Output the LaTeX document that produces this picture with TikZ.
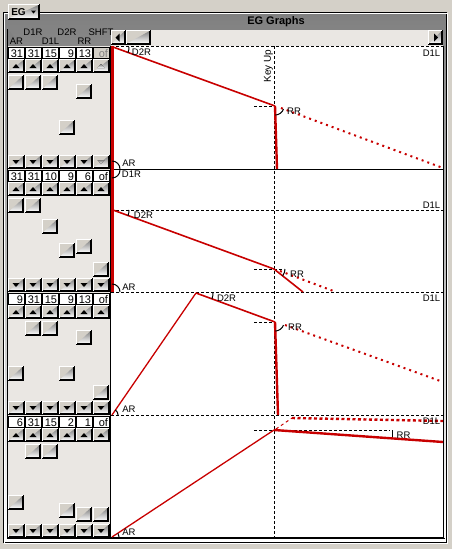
\documentclass[tikz,border=0pt]{standalone}
\usepackage{fontspec}
\setmainfont{Liberation Sans}
\definecolor{face}{HTML}{D4D0C8}
\definecolor{shade}{HTML}{808080}
\definecolor{dither}{HTML}{EAE7E3}
\definecolor{egred}{HTML}{C80000}

\newcommand{\egbtn}[4]{%
	\fill[face] (#1,#2) rectangle ++(#3,#4);
	\draw[white] (#1+0.5,#2+#4-1) |- (#1+#3-1,#2+0.5);
	\draw[shade] (#1+1,#2+#4-1.5) -| (#1+#3-1.5,#2+1);
	\draw[black] (#1,#2+#4-0.5) -| (#1+#3-0.5,#2);}
\newcommand{\egup}[3]{\egbtn{#1}{#2}{17}{14}
	\fill[#3] (#1+4.5,#2+9) -- ++(7,0) -- ++(-3.5,-4) -- cycle;}
\newcommand{\egdown}[3]{\egbtn{#1}{#2}{17}{14}
	\fill[#3] (#1+4.5,#2+5) -- ++(7,0) -- ++(-3.5,4) -- cycle;}

\begin{document}
\begin{tikzpicture}[x = 1pt, y = -1pt, line width = 1pt,
	lbl/.style = {font = \fontsize{9.5}{9.5}\selectfont, inner sep = 0pt},
	num/.style = {font = \fontsize{11}{11}\selectfont, inner sep = 0pt, anchor = east},
	curve/.style = {egred, line width = 1.6pt},
	relcurve/.style = {egred, line width = 2.4pt},
	dotcurve/.style = {egred, line width = 2pt, dash pattern = on 2pt off 4pt},
	level/.style = {black, line width = 1pt, dash pattern = on 3pt off 2pt}]
	\fill[face] (0,0) rectangle (452,549);
	\useasboundingbox (0,0) rectangle (452,549);

	% frame
	\draw[shade] (40,12.5) -- (446.5,12.5) -- (446.5,542.5) -- (3.5,542.5) -- (3.5,12.5) -- (8,12.5);
	\draw[white] (40,13.5) -- (447.5,13.5) -- (447.5,543.5) -- (4.5,543.5) -- (4.5,13.5) -- (8,13.5);
	\draw[shade] (7.5,29) -- (7.5,538.5) -- (445,538.5);
	\egbtn{8}{4}{32}{16}
	\node[font = \bfseries\fontsize{10}{10}\selectfont, inner sep = 0pt](eg) at (18.5,12){EG};
	\fill (31,10.5) -- ++(5,0) -- ++(-2.5,3) -- cycle;
	\node[font = \bfseries\fontsize{11}{11}\selectfont, inner sep = 0pt](title) at (276,21.5){EG Graphs};

	% column heads
	\foreach \t/\c in {AR/1, D1L/3, RR/5}
		\node[lbl](head-\t) at (8+17*\c-8.5,41){\t};
	\foreach \t/\c in {D1R/2, D2R/4, SHFT/6}
		\node[lbl](head-\t) at (8+17*\c-9,32){\t};

	% scroll bar
	\fill[dither] (111,30) rectangle (443,46);
	\egbtn{111}{30}{15}{15}
	\fill (119.5,33.5) -- (119.5,41.5) -- (115.5,37.5) -- cycle;
	\egbtn{126}{30}{25}{15}
	\egbtn{428}{30}{15}{15}
	\fill (434,33.5) -- (434,41.5) -- (438,37.5) -- cycle;

	% sliders
	\fill[dither] (8,46) rectangle (110,537);
	\foreach \n/\vals/\tops [count = \k] in {47/{31,31,15,9,13,of}/{75,75,75,120,84,0},
		170/{31,31,10,9,6,of}/{198,198,219,243,239,262},
		293/{9,31,15,9,13,of}/{366,321,321,366,330,385},
		416/{6,31,15,2,1,of}/{495,444,444,503,507,507}}{
		\foreach \v [count = \c] in \vals{
			\pgfmathsetmacro\bx{8+17*(\c-1)}
			\draw[black, fill = white] (\bx+0.5,\n+0.5) rectangle (\bx+16.5,\n+11.5);
			\node[num](val-\k-\c) at (\bx+15.5,\n+6.5){\v};
			\egup{\bx}{\n+12}{black}
			\egdown{\bx}{\n+108}{black}
		}
		\foreach \t [count = \c] in \tops{
			\ifnum\t>0\relax \pgfmathsetmacro\bx{8+17*(\c-1)}\egbtn{\bx}{\t}{16}{15}\fi
		}
	}
	\draw[black, fill = face] (93.5,47.5) rectangle (109.5,58.5);
	\node[num, text = shade](val-off) at (108.5,53.5){of};
	\egup{93}{59}{shade}
	\egdown{93}{155}{shade}

	% graphs
	\fill[white] (111,46) rectangle (443,537);
	\draw[black] (110.5,46) -- (110.5,537.5) -- (443.5,537.5) -- (443.5,46);
	\draw[level] (111,46.5) -- (443,46.5);
	\draw[black] (111,169.5) -- (443,169.5);
	\draw[level] (111,292.5) -- (443,292.5);
	\draw[level] (111,415.5) -- (443,415.5);
	\draw[level] (111,210.5) -- (443,210.5);
	\draw[level] (274.5,46) -- (274.5,537);
	\draw[level] (254,106.5) -- (275,106.5);
	\draw[level] (254,269.5) -- (284,269.5);
	\draw[level] (254,322.5) -- (275,322.5);
	\draw[level] (254,430.5) -- (390,430.5);
	\node[font = \fontsize{10}{10}\selectfont, inner sep = 0pt, rotate = 90](keyup) at (268.5,66){Key Up};

	\draw[egred, line width = 2.4pt] (112.6,46) -- (112.6,292);
	\draw[curve] (113,47) -- (275,106);
	\draw[relcurve] (275,106) -- (277,169);
	\draw[dotcurve] (281,108) -- (443,168);

	\draw[curve] (113,210) -- (274,269);
	\draw[curve] (274,269) -- (303,292);
	\draw[dotcurve] (280,271) -- (336,292);

	\draw[curve, line width = 1.3pt] (112,415) -- (196,293);
	\draw[curve] (196,293) -- (275,322);
	\draw[relcurve] (275,322) -- (278,415);
	\draw[dotcurve] (285,325) -- (443,382);

	\draw[curve, line width = 1.3pt] (112,537) -- (274,430);
	\draw[relcurve] (274,430) -- (443,442);
	\draw[egred, line width = 1pt, dash pattern = on 3pt off 3pt] (276,429) -- (292,418);
	\draw[dotcurve, line width = 2.4pt, dash pattern = on 3pt off 2.5pt] (292,418) -- (443,421);

	% angle marks
	\draw (112,161) arc[start angle = -90, end angle = 0, radius = 8];
	\draw (120,170) arc[start angle = 0, end angle = 90, radius = 8];
	\draw (112,284) arc[start angle = -90, end angle = 0, radius = 8];
	\draw (115.4,410) arc[start angle = -56, end angle = 0, radius = 6];
	\draw (117.9,533.2) arc[start angle = -33, end angle = 0, radius = 7];
	\draw (129,47) arc[start angle = 0, end angle = 20, radius = 17];
	\draw (129,210) arc[start angle = 0, end angle = 20, radius = 17];
	\draw (213,293) arc[start angle = 0, end angle = 20, radius = 17];
	\draw (283.5,109.1) arc[start angle = 20, end angle = 88, radius = 9];
	\draw (285,269) arc[start angle = 0, end angle = 38, radius = 11];
	\draw (283.5,325.1) arc[start angle = 20, end angle = 88, radius = 9];
	\draw (392.5,430) -- (392.5,437);

	\node[lbl](d2r-1) at (141.5,52){D2R};
	\node[lbl](d1l-1) at (431.5,53){D1L};
	\node[lbl](rr-1) at (294,111){RR};
	\node[lbl](ar-1) at (129,163){AR};
	\node[lbl](d1r-2) at (131.5,174.5){D1R};
	\node[lbl](d2r-2) at (143.5,215){D2R};
	\node[lbl](d1l-2) at (431.5,205){D1L};
	\node[lbl](rr-2) at (297,274){RR};
	\node[lbl](ar-2) at (129,287){AR};
	\node[lbl](d2r-3) at (226.5,298.5){D2R};
	\node[lbl](d1l-3) at (431.5,298.5){D1L};
	\node[lbl](rr-3) at (295,327.5){RR};
	\node[lbl](ar-3) at (129,409){AR};
	\node[lbl](d1l-4) at (431.5,421.5){D1L};
	\node[lbl](rr-4) at (403.5,435){RR};
	\node[lbl](ar-4) at (129,532.5){AR};
\end{tikzpicture}
\end{document}
